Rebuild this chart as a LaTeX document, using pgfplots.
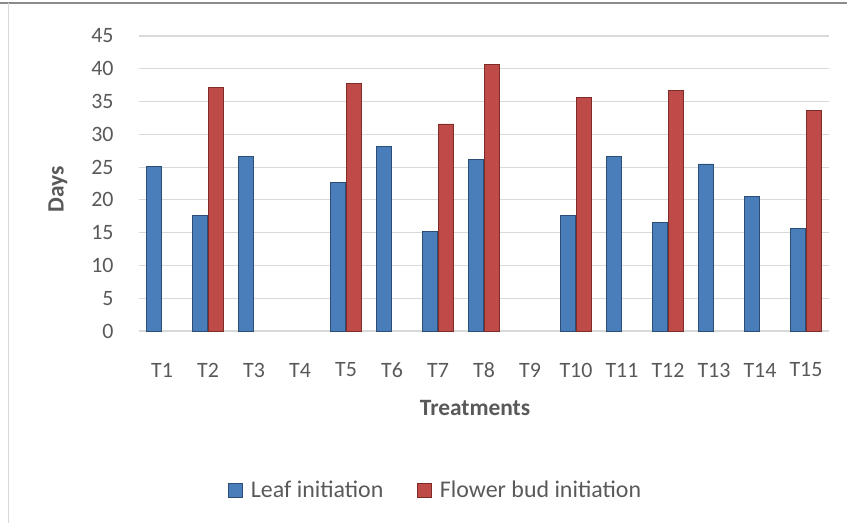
\documentclass[border=0pt]{standalone}
\usepackage{pgfplots}
\pgfplotsset{compat=1.18}
\usepackage{fontspec}
\setmainfont{Carlito}
\definecolor{txt}{HTML}{595959}
\definecolor{gridc}{HTML}{D9D9D9}
\definecolor{blueF}{HTML}{4A7EBB}
\definecolor{blueD}{HTML}{2C4D75}
\definecolor{redF}{HTML}{BE4B48}
\definecolor{redD}{HTML}{7F2B28}
\begin{document}
\begin{tikzpicture}[x=1bp,y=1bp]
\useasboundingbox (-139bp,-192bp) rectangle (708bp,331bp);
\draw[color=gray!90, line width=1.2bp] (-139bp,328bp) -- (708bp,328bp);
\draw[color=gridc, line width=0.8bp] (-131bp,328bp) -- (-131bp,-192bp);
\begin{axis}[
  at={(0,0)}, anchor=south west,
  scale only axis, width=690bp, height=295bp,
  xmin=0.5, xmax=15.5, ymin=0, ymax=45,
  ytick={0,5,...,45},
  xtick={1,...,15},
  xticklabels={T1,T2,T3,T4,T5,T6,T7,T8,T9,T10,T11,T12,T13,T14,T15},
  ybar=1bp, bar width=15bp,
  axis line style={draw=none},
  ymajorgrids, grid style={color=gridc, line width=1.2bp},
  major tick length=0pt,
  /pgf/number format/assume math mode=true,
  tick label style={font=\fontsize{22}{26}\selectfont, text=txt},
  yticklabel style={anchor=east, xshift=-22bp},
  xticklabel style={anchor=center, yshift=-39bp},
  xlabel={\textbf{Treatments}},
  ylabel={\textbf{Days}},
  label style={font=\fontsize{23.5}{28}\selectfont, text=txt},
  xlabel style={at={(0.487,0)}, anchor=center, yshift=-77bp},
  ylabel style={at={(0,0.48)}, anchor=center, rotate=0, yshift=81bp},
  legend style={at={(0.43,-0.54)}, anchor=center, draw=none, fill=none,
    legend columns=2, font=\fontsize{24}{28}\selectfont, text=txt,
    /tikz/every even column/.append style={column sep=32bp}},
  legend image code/.code={\draw[#1] (0bp,-7bp) rectangle (14bp,7bp); \path (20bp,0bp);},
]
\addplot[fill=blueF, draw=blueD, line width=0.6bp]
  coordinates {(1,25.1) (2,17.6) (3,26.6) (5,22.7) (6,28.2) (7,15.2) (8,26.2) (10,17.6) (11,26.6) (12,16.6) (13,25.5) (14,20.5) (15,15.7)};
\addplot[fill=redF, draw=redD, line width=0.6bp]
  coordinates {(2,37.2) (5,37.8) (7,31.6) (8,40.7) (10,35.6) (12,36.7) (15,33.7)};
\legend{Leaf initiation, Flower bud initiation}
\end{axis}
\end{tikzpicture}
\end{document}
